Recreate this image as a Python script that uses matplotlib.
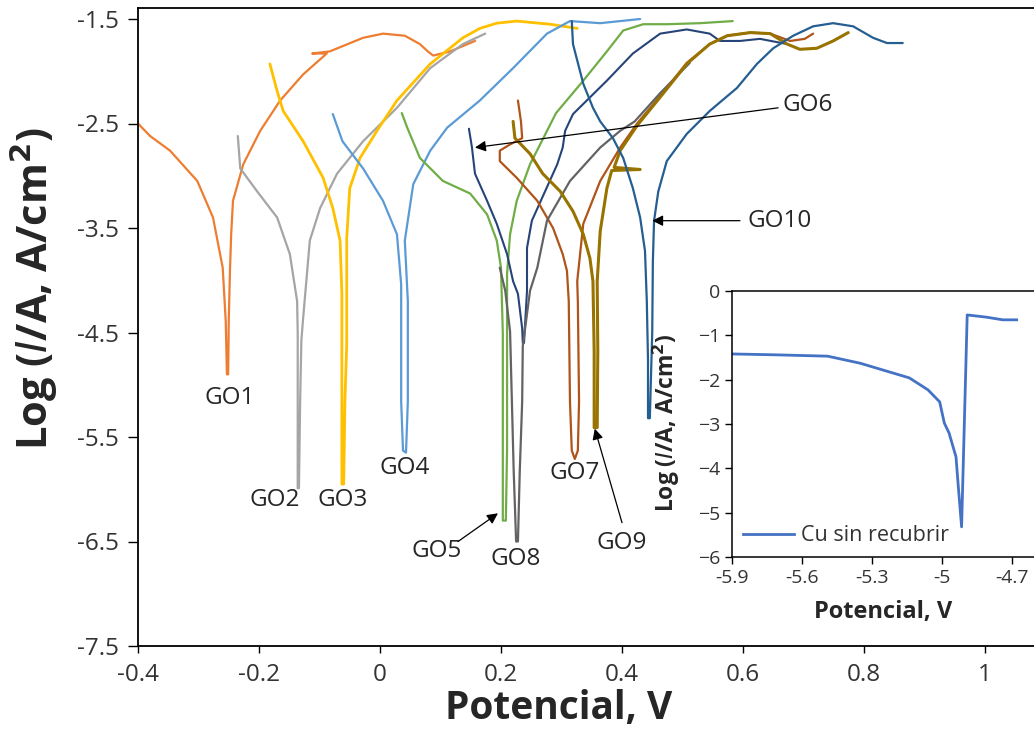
import matplotlib
matplotlib.use("Agg")
import matplotlib.pyplot as plt

plt.rcParams['font.family'] = ['Open Sans', 'DejaVu Sans']

# ---------------- data (Potential V, log I) ----------------
go1_v = [-0.400, -0.380, -0.347, -0.302, -0.276, -0.260, -0.255, -0.253, -0.251, -0.250, -0.248, -0.246,
         -0.243, -0.226, -0.198, -0.165, -0.127, -0.088, -0.112, -0.083, -0.028, 0.005, 0.041, 0.066,
         0.079, 0.088, 0.116, 0.157]
go1_i = [-2.50, -2.62, -2.76, -3.05, -3.40, -3.88, -4.39, -4.90, -4.90, -4.39, -3.91, -3.56,
         -3.24, -2.89, -2.57, -2.28, -2.03, -1.83, -1.83, -1.81, -1.68, -1.64, -1.66, -1.74,
         -1.81, -1.85, -1.81, -1.71]

go2_v = [-0.235, -0.231, -0.203, -0.170, -0.149, -0.137, -0.136, -0.136, -0.136,
         -0.134, -0.132, -0.130, -0.127, -0.116, -0.099, -0.071, -0.028, 0.028, 0.083, 0.137, 0.174]
go2_i = [-2.62, -2.93, -3.15, -3.40, -3.75, -4.20, -4.51, -5.16, -5.99,
         -5.99, -5.16, -4.58, -4.36, -3.62, -3.31, -2.98, -2.67, -2.35, -1.97, -1.74, -1.64]

go3_v = [-0.182, -0.170, -0.160, -0.127, -0.094, -0.078, -0.066, -0.063, -0.063, -0.063,
         -0.060, -0.058, -0.055, -0.055, -0.050, -0.033, -0.005, 0.028, 0.083, 0.137, 0.165,
         0.193, 0.226, 0.281, 0.326]
go3_i = [-1.93, -2.19, -2.38, -2.67, -3.02, -3.31, -3.62, -4.13, -5.16, -5.95,
         -5.95, -5.16, -4.61, -3.60, -3.12, -2.83, -2.57, -2.28, -1.93, -1.68, -1.59,
         -1.54, -1.52, -1.55, -1.59]

go4_v = [-0.078, -0.062, -0.028, 0.005, 0.028, 0.035, 0.035, 0.038,
         0.043, 0.046, 0.046, 0.041, 0.055, 0.083, 0.111, 0.165, 0.220, 0.276, 0.314, 0.364, 0.430]
go4_i = [-2.41, -2.67, -2.93, -3.24, -3.56, -4.04, -5.16, -5.63,
         -5.65, -5.16, -4.20, -3.62, -3.08, -2.76, -2.54, -2.28, -1.97, -1.64, -1.52, -1.54, -1.50]

go5_v = [0.036, 0.045, 0.066, 0.104, 0.149, 0.177, 0.193, 0.200, 0.203, 0.203, 0.203,
         0.208, 0.210, 0.210, 0.210, 0.215, 0.226, 0.248, 0.291, 0.336, 0.375, 0.402, 0.435,
         0.474, 0.529, 0.583]
go5_i = [-2.40, -2.54, -2.83, -3.05, -3.17, -3.37, -3.62, -3.88, -4.51, -5.63, -6.30,
         -6.30, -5.63, -4.51, -3.94, -3.56, -3.24, -2.89, -2.40, -2.09, -1.81, -1.61, -1.55,
         -1.55, -1.54, -1.52]

go6_v = [0.147, 0.152, 0.157, 0.177, 0.193, 0.210, 0.220, 0.228, 0.235, 0.236,
         0.238, 0.243, 0.243, 0.251, 0.293, 0.302, 0.306, 0.319, 0.375, 0.418, 0.463, 0.507,
         0.545, 0.562, 0.595, 0.628, 0.673]
go6_i = [-2.55, -2.73, -2.98, -3.24, -3.46, -3.75, -4.01, -4.13, -4.46, -4.60,
         -4.60, -4.10, -3.69, -3.43, -2.89, -2.73, -2.57, -2.41, -2.09, -1.83, -1.64, -1.60,
         -1.64, -1.71, -1.71, -1.69, -1.74]

go7_v = [0.228, 0.233, 0.235, 0.215, 0.198, 0.198, 0.226, 0.260, 0.286, 0.302, 0.309, 0.312,
         0.314, 0.317, 0.322,
         0.327, 0.329, 0.327, 0.326, 0.336, 0.364, 0.397, 0.425, 0.474, 0.507, 0.545, 0.574,
         0.612, 0.645, 0.678, 0.702, 0.716]
go7_i = [-2.28, -2.48, -2.64, -2.70, -2.76, -2.86, -3.02, -3.24, -3.50, -3.75, -3.91, -4.20,
         -5.16, -5.63, -5.71,
         -5.63, -5.16, -4.20, -4.01, -3.46, -3.05, -2.73, -2.50, -2.16, -1.92, -1.74, -1.66,
         -1.63, -1.64, -1.71, -1.69, -1.64]

go8_v = [0.198, 0.207, 0.215, 0.218, 0.221, 0.225,
         0.228, 0.231, 0.235, 0.236, 0.248, 0.260, 0.276, 0.314, 0.364, 0.397, 0.421, 0.463, 0.512]
go8_i = [-3.88, -4.10, -4.49, -5.16, -5.83, -6.50,
         -6.50, -5.83, -5.16, -4.63, -4.10, -3.88, -3.43, -3.05, -2.73, -2.57, -2.48, -2.21, -1.92]

go9_v = [0.220, 0.223, 0.228, 0.248, 0.269, 0.298, 0.319, 0.336, 0.347, 0.352, 0.354, 0.354,
         0.359, 0.360, 0.359, 0.364, 0.375, 0.383, 0.430, 0.387, 0.397, 0.425, 0.474, 0.507,
         0.545, 0.574, 0.612, 0.645, 0.673, 0.694, 0.722, 0.749, 0.774]
go9_i = [-2.48, -2.64, -2.67, -2.79, -2.98, -3.15, -3.34, -3.56, -3.79, -4.01, -4.68, -5.41,
         -5.41, -4.68, -4.01, -3.53, -3.12, -2.95, -2.94, -2.92, -2.76, -2.52, -2.17, -1.93,
         -1.74, -1.66, -1.63, -1.64, -1.74, -1.79, -1.78, -1.71, -1.63]

go10_v = [0.317, 0.319, 0.336, 0.352, 0.364, 0.385, 0.402, 0.418, 0.430, 0.438, 0.441, 0.443, 0.443,
          0.446, 0.450, 0.451, 0.453, 0.460, 0.474, 0.507, 0.545, 0.590, 0.623, 0.650, 0.683,
          0.716, 0.749, 0.782, 0.815, 0.838, 0.864]
go10_i = [-1.52, -1.74, -2.12, -2.35, -2.48, -2.64, -2.83, -3.12, -3.40, -3.72, -4.20, -4.77, -5.32,
          -5.32, -4.49, -3.82, -3.43, -3.15, -2.86, -2.60, -2.38, -2.16, -1.93, -1.78, -1.66,
          -1.57, -1.54, -1.57, -1.68, -1.73, -1.73]

cu_v = [-5.90, -5.71, -5.49, -5.35, -5.21, -5.14, -5.06, -5.01, -4.99, -4.97, -4.94, -4.93,
        -4.916, -4.892, -4.81, -4.74, -4.68]
cu_i = [-1.42, -1.44, -1.47, -1.63, -1.85, -1.96, -2.23, -2.50, -2.98, -3.20, -3.74, -4.42,
        -5.32, -0.54, -0.59, -0.65, -0.65]

series_names = ["GO1", "GO2", "GO3", "GO4", "GO5", "GO6", "GO7", "GO8", "GO9", "GO10"]
series_v = [go1_v, go2_v, go3_v, go4_v, go5_v, go6_v, go7_v, go8_v, go9_v, go10_v]
series_i = [go1_i, go2_i, go3_i, go4_i, go5_i, go6_i, go7_i, go8_i, go9_i, go10_i]
colors = ['#ED7D31', '#A5A5A5', '#FFC000', '#5B9BD5', '#70AD47',
          '#264478', '#B0541A', '#636363', '#997300', '#255E91']
widths = [1.6, 1.6, 2.0, 1.6, 1.6, 1.5, 1.6, 1.6, 2.2, 1.6]

main_yticks = [-7.5, -6.5, -5.5, -4.5, -3.5, -2.5, -1.5]
main_xticks = [-0.4, -0.2, 0, 0.2, 0.4, 0.6, 0.8, 1]
main_xticklabels = ["-0.4", "-0.2", "0", "0.2", "0.4", "0.6", "0.8", "1"]
inset_xticks = [-5.9, -5.6, -5.3, -5.0, -4.7]
inset_xticklabels = ["-5.9", "-5.6", "-5.3", "-5", "-4.7"]
inset_yticks = [0, -1, -2, -3, -4, -5, -6]

# labels: (text, x, y) and arrows (tail, head)
plain_labels = [("GO1", -0.248, -5.13), ("GO2", -0.174, -6.10), ("GO3", -0.061, -6.10),
                ("GO4", 0.040, -5.80), ("GO8", 0.225, -6.67), ("GO7", 0.322, -5.84),
                ("GO5", 0.093, -6.59), ("GO9", 0.400, -6.51), ("GO6", 0.707, -2.32),
                ("GO10", 0.661, -3.43)]
arrows = [((0.129, -6.50), (0.195, -6.23)),
          ((0.400, -6.32), (0.355, -5.42)),
          ((0.658, -2.35), (0.157, -2.73)),
          ((0.595, -3.43), (0.450, -3.43))]

# ---------------- figure ----------------
W, H = 1034, 750
fig = plt.figure(figsize=(W / 100, H / 100), dpi=100)
ax = fig.add_axes([138 / W, (H - 646) / H, (W - 138) / W, (646 - 8) / H])

for v, i, c, lw in zip(series_v, series_i, colors, widths):
    ax.plot(v, i, color=c, lw=lw, solid_joinstyle='round', solid_capstyle='round')

ax.set_xlim(-0.4, -0.4 + 896 / 605)
ax.set_ylim(-7.5, -7.5 + 638 / 104.5)
ax.set_xticks(main_xticks)
ax.set_xticklabels(main_xticklabels)
ax.set_yticks(main_yticks)
ax.set_yticklabels([f"{t:.1f}" for t in main_yticks])
ax.tick_params(axis='both', direction='out', labelsize=17.5, colors='#000000', labelcolor='#333333',
               width=1.0)
ax.tick_params(axis='y', length=7, pad=7)
ax.tick_params(axis='x', length=5, pad=7)
for s in ['left', 'bottom', 'top']:
    ax.spines[s].set_linewidth(1.3)
    ax.spines[s].set_color('#000000')
ax.spines['right'].set_visible(False)

ax.set_xlabel("Potencial, V", fontsize=28, fontweight='bold', color='#262626')
ax.xaxis.set_label_coords(0.469, -0.068)
ax.set_ylabel(r"Log ($\mathbf{\mathit{I}}$/A, A/cm$^\mathbf{2}$)", fontsize=30,
              fontweight='bold', color='#262626')
ax.yaxis.set_label_coords(-0.087, 0.56)

for txt, x, y in plain_labels:
    ax.text(x, y, txt, fontsize=17.5, color='#262626', ha='center', va='center')
for tail, head in arrows:
    ax.annotate("", xy=head, xytext=tail,
                arrowprops=dict(arrowstyle='-|>', color='black', lw=0.9, mutation_scale=16,
                                shrinkA=0, shrinkB=0))

# ---------------- inset ----------------
ins = fig.add_axes([732 / W, (H - 557) / H, (W - 732) / W, (557 - 291) / H])
ins.set_facecolor('white')
ins.plot(cu_v, cu_i, color='#4472C4', lw=2.0, label="Cu sin recubrir")
ins.set_xlim(-5.9, -5.9 + 302 / 70 * 0.3)
ins.set_ylim(-6, 0)
ins.set_xticks(inset_xticks)
ins.set_xticklabels(inset_xticklabels)
ins.set_yticks(inset_yticks)
ins.tick_params(axis='both', direction='out', labelsize=14, labelcolor='#333333', length=5, width=1.0)
for s in ['left', 'bottom', 'top']:
    ins.spines[s].set_linewidth(1.1)
ins.spines['right'].set_visible(False)
ins.set_xlabel("Potencial, V", fontsize=17, fontweight='bold', color='#262626')
ins.xaxis.set_label_coords(0.5, -0.16)
ins.set_ylabel(r"Log ($\mathbf{\mathit{I}}$/A, A/cm$^\mathbf{2}$)", fontsize=16.5,
               fontweight='bold', color='#262626')
ins.yaxis.set_label_coords(-0.165, 0.504)
ins.legend(loc='lower left', frameon=False, fontsize=15.5, handlelength=2.4,
           borderaxespad=0.1, handletextpad=0.3, labelcolor='#333333')

fig.savefig("out.png", dpi=100)
